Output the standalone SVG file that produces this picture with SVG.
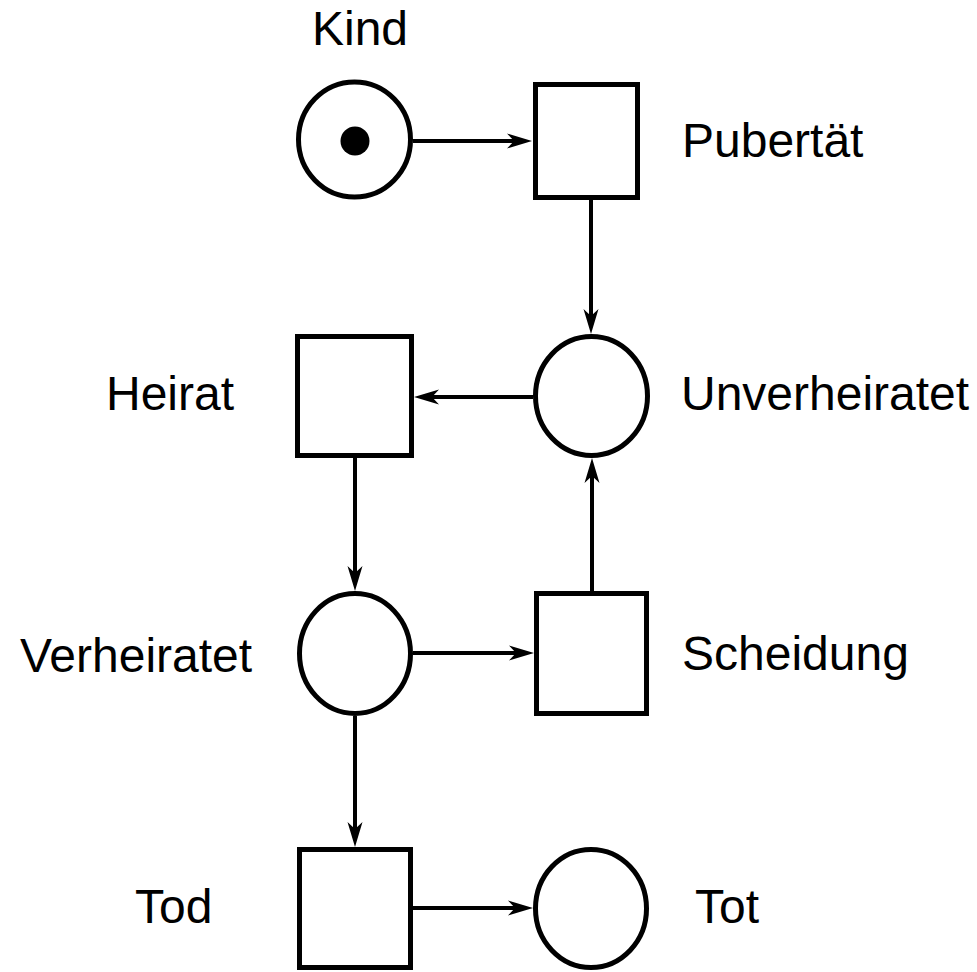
<svg xmlns="http://www.w3.org/2000/svg" width="977" height="972" viewBox="0 0 977 972">
<style>
.node{fill:#fff;stroke:#000;stroke-width:5}
.edge{fill:none;stroke:#000;stroke-width:4;marker-end:url(#arr)}
.lbl{font-family:"Liberation Sans",Arial,sans-serif;font-size:48px;fill:#000}
</style>
<defs>
<marker id="arr" markerUnits="userSpaceOnUse" viewBox="0 -8 26 16" markerWidth="26" markerHeight="16" refX="7" refY="0" orient="auto">
<path d="M0,-7.5 L25,0 L0,7.5 L7,0 Z" fill="#000"/>
</marker>
</defs>
<rect width="977" height="972" fill="#fff"/>
<g id="connectors">
<line class="edge" x1="413" y1="141" x2="514" y2="141"/>
<line class="edge" x1="591" y1="200" x2="591" y2="316"/>
<line class="edge" x1="533" y1="397" x2="432" y2="397"/>
<line class="edge" x1="355" y1="458" x2="355" y2="573"/>
<line class="edge" x1="592" y1="591" x2="592" y2="476"/>
<line class="edge" x1="413" y1="653" x2="516" y2="653"/>
<line class="edge" x1="355" y1="716" x2="355" y2="829"/>
<line class="edge" x1="413" y1="908" x2="515" y2="908"/>
</g>
<g id="kind">
<ellipse class="node" cx="354.5" cy="139.5" rx="56" ry="57.5"/>
<circle cx="355" cy="141" r="14.5" fill="#000"/>
<text class="lbl" x="360" y="45" text-anchor="middle">Kind</text>
</g>
<g id="pubertaet">
<rect class="node" x="535.5" y="84.5" width="102" height="113"/>
<text class="lbl" x="682" y="157">Pubertät</text>
</g>
<g id="unverheiratet">
<ellipse class="node" cx="591.5" cy="396" rx="56" ry="59.5"/>
<text class="lbl" x="681" y="410">Unverheiratet</text>
</g>
<g id="heirat">
<rect class="node" x="297.5" y="336.5" width="114" height="119"/>
<text class="lbl" x="106" y="410">Heirat</text>
</g>
<g id="verheiratet">
<ellipse class="node" cx="355" cy="653.5" rx="55.5" ry="60"/>
<text class="lbl" x="20" y="672">Verheiratet</text>
</g>
<g id="scheidung">
<rect class="node" x="536.5" y="593.5" width="110" height="120"/>
<text class="lbl" x="682" y="670">Scheidung</text>
</g>
<g id="tod">
<rect class="node" x="299.5" y="849.5" width="111" height="118"/>
<text class="lbl" x="135" y="923">Tod</text>
</g>
<g id="tot">
<ellipse class="node" cx="591" cy="908.5" rx="55.5" ry="59"/>
<text class="lbl" x="695" y="923">Tot</text>
</g>
</svg>
